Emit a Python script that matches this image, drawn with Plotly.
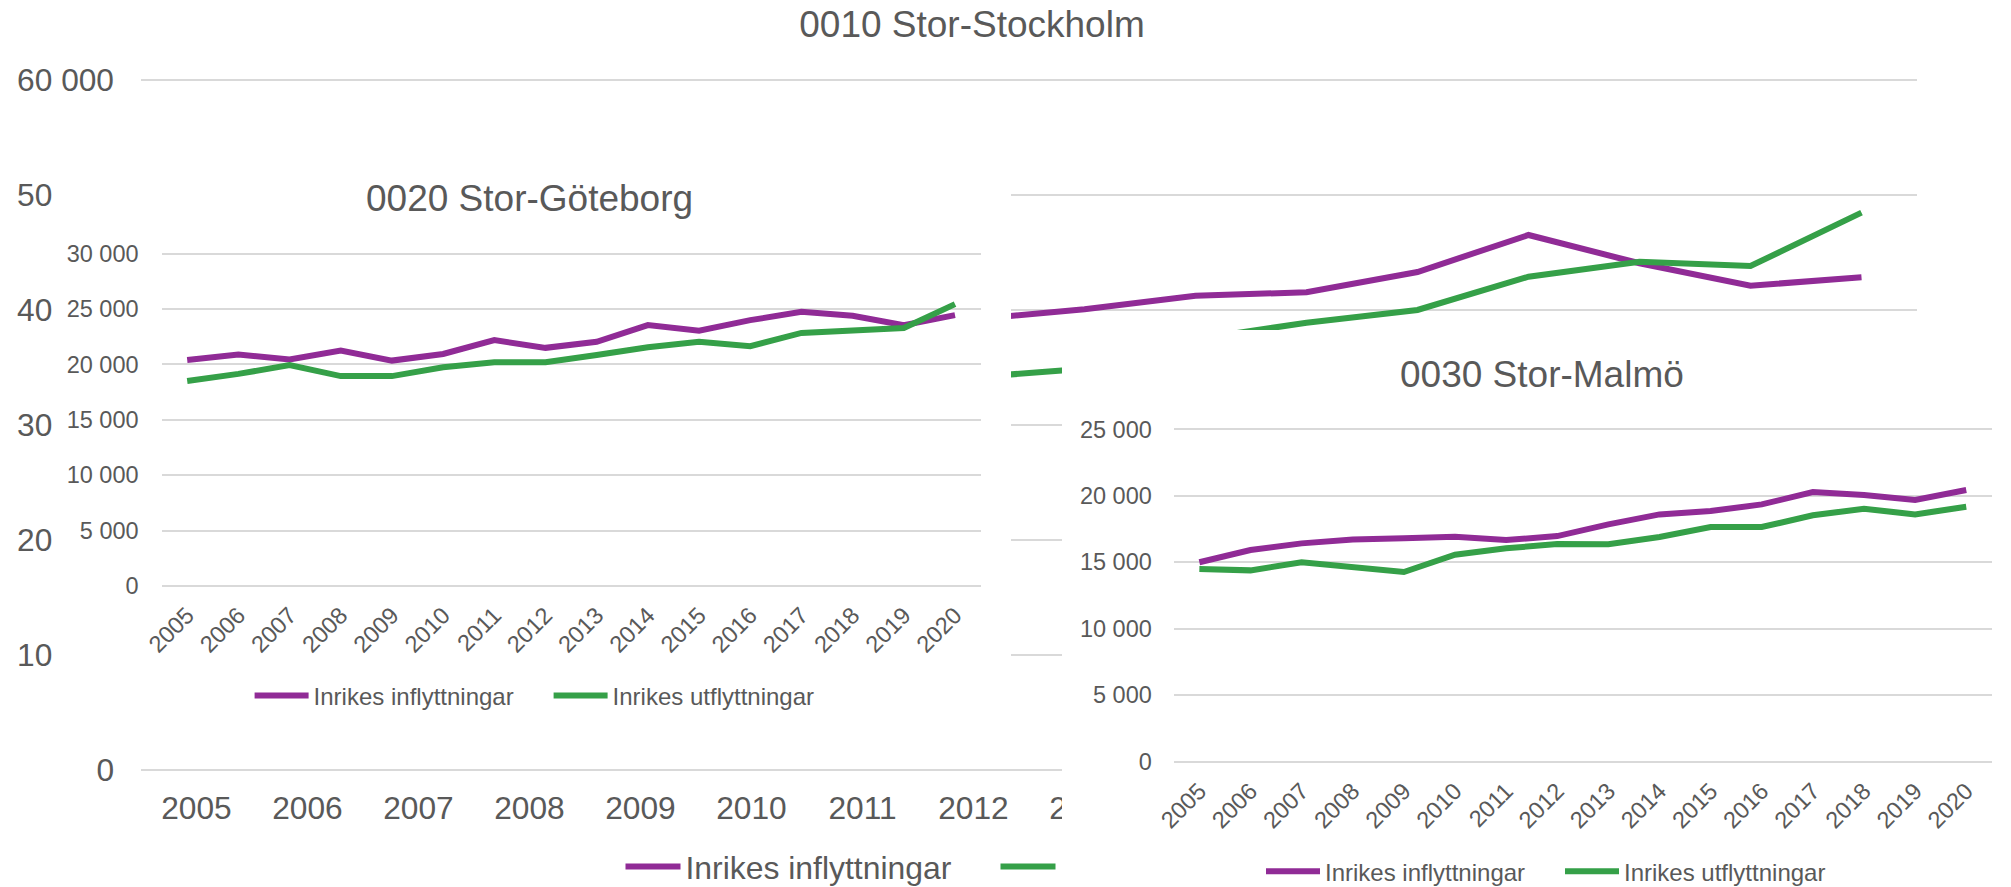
import plotly.graph_objects as go

# ---------------- data ----------------
years = ["2005", "2006", "2007", "2008", "2009", "2010", "2011", "2012",
         "2013", "2014", "2015", "2016", "2017", "2018", "2019", "2020"]

series_names = ["Inrikes inflyttningar", "Inrikes utflyttningar"]

# 0010 Stor-Stockholm (2005-2011 are hidden behind the other panels; estimated)
sthlm_in = [35500, 36200, 36800, 37300, 36900, 37600, 39000, 39140,
            40020, 41200, 41500, 43260, 46480, 44020, 42070, 42800]
sthlm_ut = [29000, 30500, 31800, 31500, 31200, 32300, 33600, 34110,
            34840, 37420, 38850, 39960, 42850, 44160, 43780, 48420]

# 0020 Stor-Göteborg
gbg_in = [20400, 20900, 20450, 21250, 20350, 20950, 22200, 21500,
          22050, 23550, 23050, 24000, 24750, 24400, 23550, 24450]
gbg_ut = [18500, 19150, 19950, 18950, 18950, 19750, 20200, 20200,
          20850, 21550, 22050, 21650, 22850, 23100, 23300, 25450]

# 0030 Stor-Malmö
malmo_in = [15000, 15920, 16420, 16720, 16800, 16920, 16670, 16970,
            17850, 18600, 18850, 19350, 20280, 20050, 19680, 20430]
malmo_ut = [14490, 14390, 15000, 14640, 14270, 15570, 16050, 16370,
            16350, 16900, 17650, 17650, 18530, 19030, 18600, 19180]

titles = ["0010 Stor-Stockholm", "0020 Stor-Göteborg", "0030 Stor-Malmö"]

# ---------------- styling ----------------
W, H = 2011, 887
PURPLE = "#902B96"
GREEN = "#35A048"
GRAY = "#595959"
GRID = "#D9D9D9"
FONT = "Liberation Sans, Arial, sans-serif"
LW = 6


def fx(p):
    return p / W


def fy(p):
    return 1 - p / H


fig = go.Figure()

# Stockholm (background panel)
fig.add_trace(go.Scatter(x=years, y=sthlm_in, mode="lines", name=series_names[0],
                         line=dict(color=PURPLE, width=LW), xaxis="x", yaxis="y",
                         legend="legend", legendwidth=305))
fig.add_trace(go.Scatter(x=years, y=sthlm_ut, mode="lines", name="",
                         line=dict(color=GREEN, width=LW), xaxis="x", yaxis="y",
                         legend="legend"))

# white cover panel for Göteborg (empty subplot whose background hides Stockholm)
fig.add_trace(go.Scatter(x=[None], y=[None], mode="lines", showlegend=False,
                         hoverinfo="skip", xaxis="x2", yaxis="y2"))

# Göteborg
fig.add_trace(go.Scatter(x=years, y=gbg_in, mode="lines", name=series_names[0],
                         line=dict(color=PURPLE, width=LW), xaxis="x3", yaxis="y3",
                         legend="legend2", legendwidth=230))
fig.add_trace(go.Scatter(x=years, y=gbg_ut, mode="lines", name=series_names[1],
                         line=dict(color=GREEN, width=LW), xaxis="x3", yaxis="y3",
                         legend="legend2"))

# white cover panel for Malmö
fig.add_trace(go.Scatter(x=[None], y=[None], mode="lines", showlegend=False,
                         hoverinfo="skip", xaxis="x4", yaxis="y4"))

# Malmö
fig.add_trace(go.Scatter(x=years, y=malmo_in, mode="lines", name=series_names[0],
                         line=dict(color=PURPLE, width=LW), xaxis="x5", yaxis="y5",
                         legend="legend3", legendwidth=230))
fig.add_trace(go.Scatter(x=years, y=malmo_ut, mode="lines", name=series_names[1],
                         line=dict(color=GREEN, width=LW), xaxis="x5", yaxis="y5",
                         legend="legend3"))


def xcat(domain, anchor, size, angle, standoff):
    return dict(domain=domain, anchor=anchor, type="category", range=[-0.5, 15.5],
                dtick=1, showgrid=False, zeroline=False, showline=False, ticks="",
                tickangle=angle, tickfont=dict(size=size, color=GRAY),
                ticklabelstandoff=standoff, automargin=False, fixedrange=True)


def yval(bottom_px, top_px, anchor, vmax, dtick, size, standoff):
    # extend range slightly above the top gridline so it is drawn
    ppu = (bottom_px - top_px) / vmax
    extra = 0.004 * vmax
    top_ext = top_px - extra * ppu
    return dict(domain=[fy(bottom_px), fy(top_ext)], anchor=anchor,
                range=[0, vmax + extra], dtick=dtick, tickformat=",d",
                showgrid=True, gridcolor=GRID, gridwidth=2, zeroline=True,
                zerolinecolor=GRID, zerolinewidth=2, showline=False, ticks="",
                tickfont=dict(size=size, color=GRAY), ticklabelstandoff=standoff,
                automargin=False, fixedrange=True)


def hidden(domain, anchor):
    return dict(domain=domain, anchor=anchor, range=[0, 1], visible=False,
                showgrid=False, zeroline=False, fixedrange=True)


legend_common = dict(orientation="h", xanchor="left", yanchor="middle",
                     bgcolor="rgba(0,0,0,0)", borderwidth=0, itemclick=False,
                     itemdoubleclick=False)

fig.update_layout(
    template="none",
    width=W, height=H,
    margin=dict(l=0, r=0, t=0, b=0, autoexpand=False),
    paper_bgcolor="white", plot_bgcolor="white",
    font=dict(family=FONT, color=GRAY),
    separators=", ",
    title=dict(text=titles[0], x=fx(972), xanchor="center", y=fy(24), yanchor="middle",
               font=dict(size=37, color=GRAY)),
    # Stockholm
    xaxis=xcat([fx(141), fx(1917)], "y", 31.7, 0, 17),
    yaxis=yval(769.5, 79.5, "x", 60000, 10000, 31.7, 26),
    # Göteborg cover
    xaxis2=hidden([fx(55), fx(1011)], "y2"),
    yaxis2=hidden([fy(730), fy(140)], "x2"),
    # Göteborg
    xaxis3=xcat([fx(161.6), fx(980.6)], "y3", 23.5, -45, 10),
    yaxis3=yval(586, 253.7, "x3", 30000, 5000, 23.5, 22),
    # Malmö cover
    xaxis4=hidden([fx(1062), 1.0], "y4"),
    yaxis4=hidden([0.0, fy(330)], "x4"),
    # Malmö
    xaxis5=xcat([fx(1173.8), fx(1991.8)], "y5", 23.5, -45, 10),
    yaxis5=yval(761.7, 429.3, "x5", 25000, 5000, 23.5, 21),
    legend=dict(x=fx(620.5), y=fy(866.7), font=dict(size=31.9, color=GRAY),
                itemwidth=55, **legend_common),
    legend2=dict(x=fx(249.6), y=fy(696), font=dict(size=24, color=GRAY),
                 itemwidth=54, **legend_common),
    legend3=dict(x=fx(1261), y=fy(871.7), font=dict(size=24, color=GRAY),
                 itemwidth=54, **legend_common),
    annotations=[
        dict(text=titles[1], x=fx(529), y=fy(198), xref="paper", yref="paper",
             showarrow=False, xanchor="center", yanchor="middle",
             font=dict(size=37, color=GRAY)),
        dict(text=titles[2], x=fx(1542), y=fy(374.5), xref="paper", yref="paper",
             showarrow=False, xanchor="center", yanchor="middle",
             font=dict(size=37, color=GRAY)),
    ],
    showlegend=True,
)

fig.write_html(
    "out.html",
    config={"displayModeBar": False},
    post_script="document.body.style.margin='0';document.body.style.padding='0';"
                "document.body.style.overflow='hidden';",
)
